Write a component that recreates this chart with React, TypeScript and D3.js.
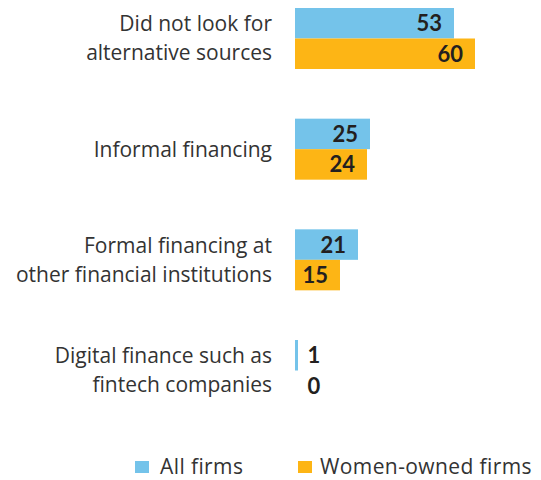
import React from "react";
import * as d3 from "d3";

const categories = [
  ["Did not look for", "alternative sources"],
  ["Informal financing"],
  ["Formal financing at", "other financial institutions"],
  ["Digital finance such as", "fintech companies"],
];
const seriesNames = ["All firms", "Women-owned firms"];
const allFirms = [53, 25, 21, 1];
const womenOwned = [60, 24, 15, 0];
const colors = ["#74c3ea", "#fdb515"];

const W = 541;
const H = 480;
const LABEL_FONT = "'Open Sans', sans-serif";
const VALUE_FONT = "Lato, 'Open Sans', sans-serif";

export default function App() {
  const keys = categories.map((c) => c.join(" "));
  const y = d3.scaleBand<string>().domain(keys).range([8, 401]).paddingInner(0.4488).paddingOuter(0);
  const yi = d3.scaleBand<string>().domain(seriesNames).range([0, y.bandwidth()]).padding(0);
  const x = d3.scaleLinear().domain([0, 60]).range([295, 475]);
  const series = [allFirms, womenOwned];

  return (
    <svg width={W} height={H} style={{ position: "absolute", left: 0, top: 0, background: "#fff" }}>
      {categories.map((lines, i) => {
        const key = keys[i];
        const cy = (y(key) as number) + y.bandwidth() / 2;
        const lh = 29;
        const startY = cy - ((lines.length - 1) * lh) / 2;
        return (
          <g key={key}>
            {lines.map((ln, j) => (
              <text key={j} x={272} y={startY + j * lh} dy="0.35em" textAnchor="end" fontSize={21} fill="#333" fontFamily={LABEL_FONT}>
                {ln}
              </text>
            ))}
            {series.map((vals, s) => {
              const v = vals[i];
              const by = (y(key) as number) + (yi(seriesNames[s]) as number);
              const bh = yi.bandwidth();
              const x0 = x(0);
              const x1 = x(v);
              const inside = x1 - x0 > 30;
              return (
                <g key={s}>
                  {v > 0 && <rect x={x0} y={by} width={x1 - x0} height={bh} fill={colors[s]} />}
                  <text
                    x={inside ? x1 - 12 : x0 + 19}
                    y={by + bh / 2}
                    dy="0.36em"
                    textAnchor={inside ? "end" : "middle"}
                    fontSize={22}
                    fontWeight={700}
                    fill="#231f20"
                    fontFamily={VALUE_FONT}
                  >
                    {v}
                  </text>
                </g>
              );
            })}
          </g>
        );
      })}
      <g fontFamily={LABEL_FONT}>
        <rect x={135} y={461} width={14} height={12} fill={colors[0]} />
        <text x={160} y={467} dy="0.35em" fontSize={21} letterSpacing={0.4} fill="#333">{seriesNames[0]}</text>
        <rect x={298} y={461} width={14} height={12} fill={colors[1]} />
        <text x={320} y={467} dy="0.35em" fontSize={21} letterSpacing={0.4} fill="#333">{seriesNames[1]}</text>
      </g>
    </svg>
  );
}
